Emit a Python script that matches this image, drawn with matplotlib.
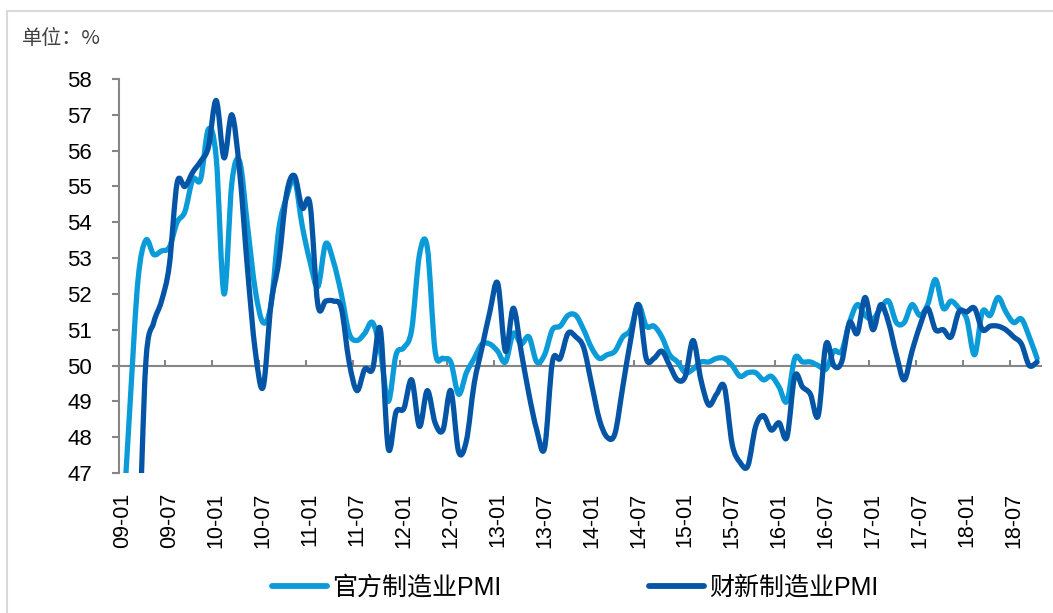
import matplotlib
matplotlib.use('Agg')
import matplotlib.pyplot as plt
from matplotlib.path import Path
from matplotlib.patches import PathPatch, Rectangle
from matplotlib.lines import Line2D
import numpy as np

# monthly PMI, 2009-01 .. 2018-10
official_pmi = [
    45.3, 49.0, 52.4, 53.5, 53.1, 53.2, 53.3, 54.0, 54.3, 55.2, 55.2, 56.6,
    55.8, 52.0, 55.1, 55.7, 53.9, 52.1, 51.2, 51.7, 53.8, 54.7, 55.2, 53.9,
    52.9, 52.2, 53.4, 52.9, 52.0, 50.9, 50.7, 50.9, 51.2, 50.4, 49.0, 50.3,
    50.5, 51.0, 53.1, 53.3, 50.4, 50.2, 50.1, 49.2, 49.8, 50.2, 50.6, 50.6,
    50.4, 50.1, 50.9, 50.6, 50.8, 50.1, 50.3, 51.0, 51.1, 51.4, 51.4, 51.0,
    50.5, 50.2, 50.3, 50.4, 50.8, 51.0, 51.7, 51.1, 51.1, 50.8, 50.3, 50.1,
    49.8, 49.9, 50.1, 50.1, 50.2, 50.2, 50.0, 49.7, 49.8, 49.8, 49.6, 49.7,
    49.4, 49.0, 50.2, 50.1, 50.1, 50.0, 49.9, 50.4, 50.4, 51.2, 51.7, 51.4,
    51.3, 51.6, 51.8, 51.2, 51.2, 51.7, 51.4, 51.7, 52.4, 51.6, 51.8, 51.6,
    51.3, 50.3, 51.5, 51.4, 51.9, 51.5, 51.2, 51.3, 50.8, 50.2,
]
caixin_pmi = [
    42.2, 45.1, 44.8, 50.1, 51.2, 51.8, 52.8, 55.1, 55.0, 55.4, 55.7, 56.1,
    57.4, 55.8, 57.0, 55.4, 52.7, 50.4, 49.4, 51.7, 52.9, 54.8, 55.3, 54.4,
    54.5, 51.7, 51.8, 51.8, 51.6, 50.1, 49.3, 49.9, 49.9, 51.0, 47.7, 48.7,
    48.8, 49.6, 48.3, 49.3, 48.4, 48.2, 49.3, 47.6, 47.9, 49.5, 50.5, 51.5,
    52.3, 50.4, 51.6, 50.4, 49.2, 48.2, 47.7, 50.1, 50.2, 50.9, 50.8, 50.5,
    49.5, 48.5, 48.0, 48.1, 49.4, 50.7, 51.7, 50.2, 50.2, 50.4, 50.0, 49.6,
    49.7, 50.7, 49.6, 48.9, 49.2, 49.4, 47.8, 47.3, 47.2, 48.3, 48.6, 48.2,
    48.4, 48.0, 49.7, 49.4, 49.2, 48.6, 50.6, 50.0, 50.1, 51.2, 50.9, 51.9,
    51.0, 51.7, 51.2, 50.3, 49.6, 50.4, 51.1, 51.6, 51.0, 51.0, 50.8, 51.5,
    51.5, 51.6, 51.0, 51.1, 51.1, 51.0, 50.8, 50.6, 50.0, 50.1,
]
tick_labels = ['09-01', '09-07', '10-01', '10-07', '11-01', '11-07', '12-01',
               '12-07', '13-01', '13-07', '14-01', '14-07', '15-01', '15-07',
               '16-01', '16-07', '17-01', '17-07', '18-01', '18-07']
series_names = ['官方制造业PMI', '财新制造业PMI']
colors = ['#0a9bd8', '#0455a5']
axis_grey = '#868686'


def smooth_path(xs, ys):
    # excel-like smoothed line (catmull-rom as cubic bezier)
    n = len(xs)
    verts = [(xs[0], ys[0])]
    codes = [Path.MOVETO]
    for i in range(n - 1):
        a = max(i - 1, 0)
        b = min(i + 2, n - 1)
        c1 = (xs[i] + (xs[i + 1] - xs[a]) / 6, ys[i] + (ys[i + 1] - ys[a]) / 6)
        c2 = (xs[i + 1] - (xs[b] - xs[i]) / 6, ys[i + 1] - (ys[b] - ys[i]) / 6)
        verts += [c1, c2, (xs[i + 1], ys[i + 1])]
        codes += [Path.CURVE4] * 3
    return Path(verts, codes)


fig = plt.figure(figsize=(10.53, 6.13), dpi=100)
ax = fig.add_axes([118.5 / 1053, 1 - 473 / 613, (1041 - 118.5) / 1053, (473 - 79) / 613])

x = np.arange(len(official_pmi))
for vals, c in zip([official_pmi, caixin_pmi], colors):
    ax.add_patch(PathPatch(smooth_path(x, vals), facecolor='none', edgecolor=c,
                           lw=3.8, capstyle='round', joinstyle='round', zorder=3))

ax.set_xlim(-0.5, 117.5)
ax.set_ylim(47, 58)

for s in ['top', 'right', 'bottom']:
    ax.spines[s].set_visible(False)
ax.spines['left'].set_color(axis_grey)
ax.spines['left'].set_linewidth(1.5)

ax.set_yticks(np.arange(47, 59))
ax.tick_params(axis='y', direction='out', length=5, width=1.5, color=axis_grey,
               labelsize=16, pad=14)
ax.set_xticks(np.arange(0, len(tick_labels) * 6, 6))
ax.set_xticklabels(tick_labels, rotation=90, fontsize=15.5)
ax.tick_params(axis='x', length=0, pad=14)
for lab in ax.get_xticklabels() + ax.get_yticklabels():
    lab.set_family('Liberation Sans')

# the category axis sits at 50
sec = ax.secondary_xaxis(3 / 11)
sec.set_xticks(np.arange(-0.5, 118, 6))
sec.tick_params(axis='x', direction='in', length=4.5, width=1.5, color=axis_grey,
                labelbottom=False, labeltop=False)
sec.spines['bottom'].set_color(axis_grey)
sec.spines['bottom'].set_linewidth(1.5)

fig.text(22 / 1053, 1 - 38 / 613, '单位：%', fontsize=14.5, color='#404040',
         family=['Noto Sans CJK SC', 'DejaVu Sans'], va='center', ha='left')

handles = [Line2D([], [], color=c, lw=4.2, solid_capstyle='round') for c in colors]
fig.legend(handles, series_names, loc='center', bbox_to_anchor=(0.546, 0.042),
           ncol=2, frameon=False, handlelength=2.2, handletextpad=0.2,
           columnspacing=5.9,
           prop={'family': ['Liberation Sans', 'Noto Sans CJK SC'], 'size': 18})

fig.add_artist(Rectangle((7 / 1053, -0.1), 1.2, 1.1 - 11 / 613, transform=fig.transFigure,
                         facecolor='none', edgecolor='#d9d9d9', lw=1.5))

fig.savefig('out.png', dpi=100)
